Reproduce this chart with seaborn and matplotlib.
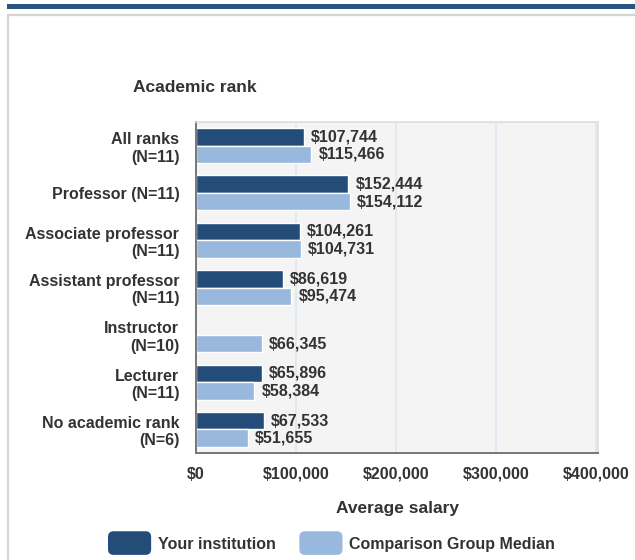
import numpy as np
import pandas as pd
import matplotlib
matplotlib.use("Agg")
import matplotlib.pyplot as plt
import seaborn as sns
from matplotlib.patches import Patch, FancyBboxPatch, Rectangle
from matplotlib.legend_handler import HandlerPatch
from matplotlib.ticker import FuncFormatter, FixedLocator

# data
ranks = [
    "All ranks\n(N=11)",
    "Professor (N=11)",
    "Associate professor\n(N=11)",
    "Assistant professor\n(N=11)",
    "Instructor\n(N=10)",
    "Lecturer\n(N=11)",
    "No academic rank\n(N=6)",
]
your_institution = [107744, 152444, 104261, 86619, np.nan, 65896, 67533]
comparison_median = [115466, 154112, 104731, 95474, 66345, 58384, 51655]
series_names = ["Your institution", "Comparison Group Median"]
x_ticks = [0, 100000, 200000, 300000, 400000]

DARK = "#244c79"
LIGHT = "#98b8dd"
TEXT = "#333333"


class RoundHandler(HandlerPatch):
    def create_artists(self, legend, orig_handle, xdescent, ydescent,
                       width, height, fontsize, trans):
        h = 17
        p = FancyBboxPatch((-xdescent + 2, -ydescent + height / 2 - h / 2 + 0.5),
                           width, h,
                           boxstyle="round,pad=0,rounding_size=4",
                           facecolor=orig_handle.get_facecolor(),
                           edgecolor="none", transform=trans)
        return [p]


def load_data():
    df = pd.DataFrame({
        "rank": ranks * 2,
        "salary": your_institution + comparison_median,
        "group": [series_names[0]] * len(ranks) + [series_names[1]] * len(ranks),
    })
    return df


def main():
    df = load_data()
    sns.set_style("white")
    plt.rcParams["font.family"] = ["Liberation Sans", "DejaVu Sans"]
    plt.rcParams["font.weight"] = "bold"

    fig = plt.figure(figsize=(6.35, 5.6), dpi=100)
    ax = fig.add_axes([0.3087, 0.1911, 0.633, 0.591])

    # page decoration: top band and frame
    fig.add_artist(Rectangle((7 / 635, 1 - 9 / 560), 1, 5 / 560,
                             transform=fig.transFigure, color="#2a5582", lw=0))
    fig.add_artist(plt.Line2D([8 / 635, 8 / 635], [0, 1 - 15 / 560],
                              transform=fig.transFigure, color="#d4d4d4", lw=1.6))
    fig.add_artist(plt.Line2D([8 / 635, 1], [1 - 15 / 560, 1 - 15 / 560],
                              transform=fig.transFigure, color="#d4d4d4", lw=1.6))

    ax.set_facecolor("#f4f4f4")
    sns.barplot(data=df, y="rank", x="salary", hue="group", orient="h",
                palette=[DARK, LIGHT], width=0.74, errorbar=None,
                saturation=1, ax=ax, legend=False, order=ranks)

    for c in ax.containers:
        ax.bar_label(c, fmt="${:,.0f}", padding=5, fontsize=11.5,
                     fontweight="bold", color=TEXT)

    ax.set_xlim(0, 402000)
    ax.set_ylim(len(ranks) - 0.5, -0.5)
    ax.set_xticks(x_ticks)
    ax.xaxis.set_major_formatter(FuncFormatter(lambda v, p: f"${v:,.0f}"))
    ax.tick_params(axis="x", length=0, pad=10, labelsize=11.5, labelcolor=TEXT)
    ax.set_yticks(range(len(ranks)))
    ax.set_yticklabels(ranks, ma="right", fontsize=11.5, fontweight="bold",
                       color=TEXT)
    ax.tick_params(axis="y", which="major", length=0, pad=12)
    ax.yaxis.set_minor_locator(FixedLocator(np.arange(-0.5, len(ranks), 1)))
    ax.tick_params(axis="y", which="minor", length=6, width=1.2,
                   color="#777777")

    ax.grid(axis="x", color="#dfe6f0", lw=1.2)
    ax.set_axisbelow(True)
    for s in ["top", "right"]:
        ax.spines[s].set_color("#dddddd")
        ax.spines[s].set_linewidth(1.2)
    for s in ["left", "bottom"]:
        ax.spines[s].set_color("#777777")
        ax.spines[s].set_linewidth(1.4)

    ax.set_ylabel("")
    ax.set_xlabel("Average salary", fontsize=12.5, fontweight="bold",
                  color=TEXT, labelpad=14)
    fig.text(133 / 635, 1 - 87 / 560, "Academic rank", fontsize=12.5,
             fontweight="bold", color=TEXT, va="center", ha="left")

    handles = [Patch(facecolor=DARK), Patch(facecolor=LIGHT)]
    fig.legend(handles, series_names, loc="center",
               bbox_to_anchor=(0.52, 0.029), ncol=2, frameon=False,
               fontsize=11.5, handlelength=2.7, handleheight=1.4,
               handletextpad=0.6, columnspacing=1.3,
               handler_map={Patch: RoundHandler()},
               labelcolor=TEXT)

    plt.savefig("out.png", dpi=100)


if __name__ == "__main__":
    main()
